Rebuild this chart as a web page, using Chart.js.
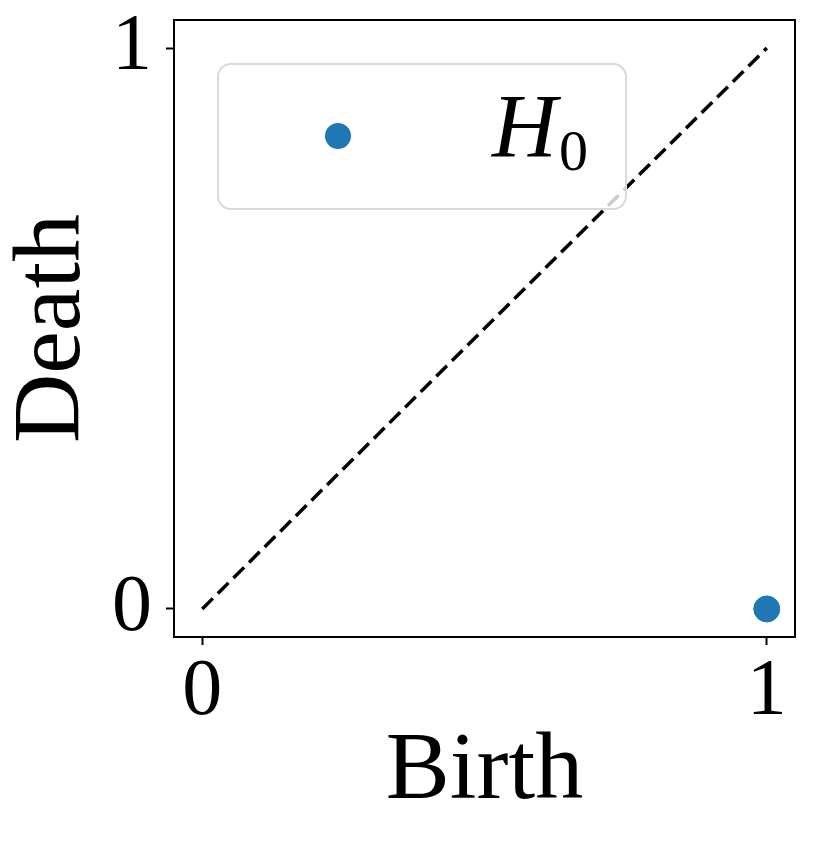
<!DOCTYPE html>
<html>
<head>
<meta charset="utf-8">
<script src="https://cdn.jsdelivr.net/npm/chart.js@4/dist/chart.umd.min.js"></script>
<style>
  html, body { margin: 0; padding: 0; background: #fff; }
  canvas { display: block; }
</style>
</head>
<body>
<canvas id="diagram" width="814" height="847"></canvas>
<script>
// data
const diagX = [0, 1];
const diagY = [0, 1];
const birth = [1];
const death = [0];
const xTicks = [0, 1];
const yTicks = [0, 1];
const xTickLabels = ['0', '1'];
const yTickLabels = ['0', '1'];
const seriesName = 'H';
const seriesSub = '0';

const blue = '#1f77b4';
const serif = '"Liberation Serif", "DejaVu Serif", serif';

// frame around the plot + boxed legend inside it
const framePlugin = {
  id: 'frame',
  afterDatasetsDraw(chart) {
    const { ctx, chartArea: a } = chart;
    ctx.save();
    ctx.strokeStyle = '#000';
    ctx.lineWidth = 2;
    ctx.strokeRect(a.left, a.top, a.right - a.left, a.bottom - a.top);

    // legend box
    const bx = a.left + 44, by = a.top + 44, bw = 408, bh = 145;
    ctx.beginPath();
    ctx.roundRect(bx, by, bw, bh, 13);
    ctx.fillStyle = 'rgba(255,255,255,0.8)';
    ctx.fill();
    ctx.strokeStyle = '#d9d9d9';
    ctx.lineWidth = 2;
    ctx.stroke();

    ctx.beginPath();
    ctx.arc(bx + 120, by + 72, 13, 0, Math.PI * 2);
    ctx.fillStyle = blue;
    ctx.fill();

    ctx.fillStyle = '#000';
    ctx.textBaseline = 'alphabetic';
    ctx.textAlign = 'left';
    ctx.font = 'italic 90px ' + serif;
    ctx.fillText(seriesName, bx + 274, by + 93);
    const w = ctx.measureText(seriesName).width;
    ctx.font = '58px ' + serif;
    ctx.fillText(seriesSub, bx + 274 + w + 2, by + 106);
    ctx.restore();
  }
};

const ctx = document.getElementById('diagram').getContext('2d');
const chart = new Chart(ctx, {
  type: 'scatter',
  data: {
    datasets: [{
      type: 'line',
      label: 'diag',
      data: diagX.map((x, i) => ({ x: x, y: diagY[i] })),
      borderColor: '#000',
      borderWidth: 3.5,
      borderDash: [15, 7],
      pointRadius: 0,
      fill: false,
      order: 2
    }, {
      label: 'H0',
      data: birth.map((x, i) => ({ x: x, y: death[i] })),
      backgroundColor: blue,
      borderColor: blue,
      pointRadius: 13,
      pointHoverRadius: 13,
      order: 1
    }]
  },
  options: {
    responsive: false,
    animation: false,
    devicePixelRatio: 1,
    layout: { padding: { top: 20, right: 19, left: 0, bottom: 0 } },
    plugins: {
      legend: { display: false },
      tooltip: { enabled: false }
    },
    scales: {
      x: {
        type: 'linear',
        min: -0.05,
        max: 1.05,
        afterBuildTicks: (s) => { s.ticks = xTicks.map(v => ({ value: v })); },
        afterFit: (s) => { s.height = 210; s.paddingLeft = 0; s.paddingRight = 0; },
        grid: { drawOnChartArea: false, drawTicks: true, tickLength: 8, tickWidth: 2, tickColor: '#000' },
        border: { display: false },
        ticks: {
          autoSkip: false,
          maxRotation: 0,
          padding: 8,
          color: '#000',
          font: { family: serif, size: 80, lineHeight: 1 },
          callback: (v, i) => xTickLabels[i]
        },
        title: {
          display: true,
          text: 'Birth',
          color: '#000',
          font: { family: serif, size: 96, lineHeight: 1 },
          padding: { top: 0, bottom: 26 }
        }
      },
      y: {
        type: 'linear',
        min: -0.05,
        max: 1.05,
        afterBuildTicks: (s) => { s.ticks = yTicks.map(v => ({ value: v })); },
        afterFit: (s) => { s.width = 174; s.paddingTop = 0; s.paddingBottom = 0; },
        grid: { drawOnChartArea: false, drawTicks: true, tickLength: 8, tickWidth: 2, tickColor: '#000' },
        border: { display: false },
        ticks: {
          autoSkip: false,
          padding: 14,
          color: '#000',
          font: { family: serif, size: 80, lineHeight: 1 },
          callback: (v, i) => yTickLabels[i]
        },
        title: {
          display: true,
          text: 'Death',
          color: '#000',
          font: { family: serif, size: 96, lineHeight: 1 },
          padding: { top: 6, bottom: 0 }
        }
      }
    }
  },
  plugins: [framePlugin]
});
</script>
</body>
</html>
